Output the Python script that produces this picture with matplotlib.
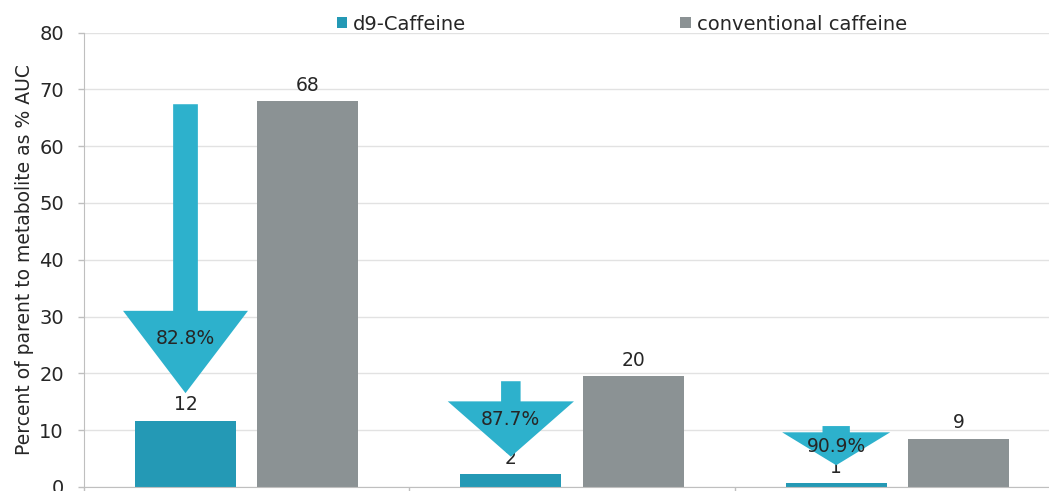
import matplotlib
matplotlib.use("Agg")
import matplotlib.pyplot as plt
import numpy as np
from matplotlib.patches import Patch

# ---- data ----
series_names = ["d9-Caffeine", "conventional caffeine"]
d9_values = [11.6, 2.25, 0.6]
conv_values = [67.9, 19.5, 8.5]
d9_labels = ["12", "2", "1"]
conv_labels = ["68", "20", "9"]
reduction_labels = ["82.8%", "87.7%", "90.9%"]

# arrow annotation geometry (data units)
arrow_top = [67.4, 18.6, 10.7]
arrow_head_base = [31.0, 15.05, 9.6]
arrow_tip = [16.5, 5.3, 3.8]
arrow_head_half = [0.192, 0.194, 0.166]
arrow_shaft_half = [0.038, 0.030, 0.042]
reduction_label_y = [26.2, 11.8, 7.1]

y_ticks = [0, 10, 20, 30, 40, 50, 60, 70, 80]

c_d9 = "#2499b5"
c_conv = "#8b9294"
c_arrow = "#2db1cc"
c_text = "#262626"

plt.rcParams["font.family"] = ["DejaVu Sans"]

fig = plt.figure(figsize=(10.49, 4.91), dpi=100)
ax = fig.add_axes([84 / 1049, 4.2 / 491, 976 / 1049, (486.8 - 32.7) / 491])

x = np.arange(len(d9_values))
w = 0.31
off = 0.188
ax.bar(x - off, d9_values, w, color=c_d9, zorder=2)
ax.bar(x + off, conv_values, w, color=c_conv, zorder=2)

for xi, v, lab in zip(x - off, d9_values, d9_labels):
    ax.annotate(lab, (xi, v), xytext=(0, 11.5), textcoords="offset points",
                ha="center", va="center", fontsize=13.5, color=c_text, zorder=3)
for xi, v, lab in zip(x + off, conv_values, conv_labels):
    ax.annotate(lab, (xi, v), xytext=(0, 11.5), textcoords="offset points",
                ha="center", va="center", fontsize=13.5, color=c_text, zorder=3)

for i, xc in enumerate(x - off):
    sh = arrow_shaft_half[i]
    hh = arrow_head_half[i]
    xs = [xc - sh, xc + sh, xc + sh, xc + hh, xc, xc - hh, xc - sh]
    ys = [arrow_top[i], arrow_top[i], arrow_head_base[i], arrow_head_base[i],
          arrow_tip[i], arrow_head_base[i], arrow_head_base[i]]
    ax.fill(xs, ys, color=c_arrow, zorder=4, linewidth=0)
    ax.text(xc, reduction_label_y[i], reduction_labels[i], ha="center", va="center",
            fontsize=13.5, color=c_text, zorder=5)

ax.set_xlim(-0.5, len(d9_values) - 0.5)
ax.set_ylim(0, 80)
ax.set_yticks(y_ticks)
ax.set_xticks(np.arange(len(d9_values) + 1) - 0.5)
ax.set_xticklabels([])
ax.tick_params(axis="y", labelsize=14, labelcolor=c_text, color="#bfbfbf",
               length=4.5, width=1, pad=10)
ax.tick_params(axis="x", color="#bfbfbf", length=5, width=1)
ax.grid(axis="y", color="#e2e2e2", linewidth=1, zorder=0)
ax.set_axisbelow(True)
for s in ["top", "right"]:
    ax.spines[s].set_visible(False)
for s in ["left", "bottom"]:
    ax.spines[s].set_color("#bfbfbf")
ax.set_ylabel("Percent of parent to metabolite as % AUC", fontsize=13.5,
              color=c_text, labelpad=3.5)

handles = [Patch(facecolor=c_d9), Patch(facecolor=c_conv)]
fig.legend(handles, series_names, loc="center left",
           bbox_to_anchor=((337 - 18) / 1049, 1 - 24 / 491),
           ncol=2, frameon=False, fontsize=14, handlelength=0.55, handleheight=0.55,
           handletextpad=0.3, columnspacing=11.0, labelcolor=c_text)

fig.savefig("out.png", dpi=100)
